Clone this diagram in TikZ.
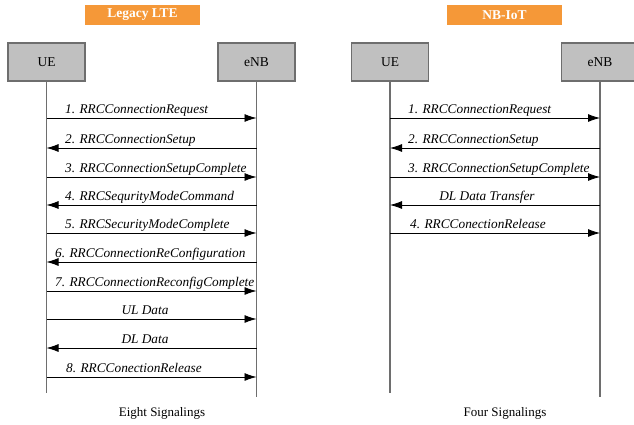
\documentclass[tikz,border=0pt]{standalone}
\usepackage{fontspec}
\setmainfont{Liberation Serif}
\usetikzlibrary{arrows.meta}
\definecolor{titleorange}{RGB}{245,152,56}
\definecolor{boxgray}{RGB}{192,192,192}
\definecolor{linegray}{RGB}{110,110,110}
\tikzset{
  entity/.style={draw=linegray,fill=boxgray,line width=1.2pt,minimum width=77pt,
    minimum height=38pt,inner sep=0pt,font=\fontsize{13.5}{15}\selectfont},
  titlebox/.style={fill=titleorange,text=white,minimum width=115pt,minimum height=20pt,
    inner sep=0pt,font=\bfseries\fontsize{13.5}{15}\selectfont},
  msg/.style={-{Latex[length=12pt,width=8pt]},line width=0.8pt},
  lifeline/.style={draw=linegray,line width=1.2pt},
  msglabel/.style={font=\itshape\fontsize{13.3}{15}\selectfont,inner sep=0pt},
  caption/.style={font=\fontsize{13}{15}\selectfont,inner sep=0pt}
}
\begin{document}
\begin{tikzpicture}[x=1pt,y=-1pt]
  \useasboundingbox (0,0) rectangle (634,424);
  % titles
  \node[titlebox] (ltetitle) at (142.5,15) {Legacy LTE};
  \node[titlebox] (iottitle) at (504.5,15) {NB-IoT};
  % entities
  \node[entity] (ueL) at (46.5,62) {UE};
  \node[entity] (enbL) at (256.5,62) {eNB};
  \node[entity] (ueR) at (390,62) {UE};
  \node[entity] (enbR) at (600,62) {eNB};
  % lifelines
  \coordinate (ueLend) at (ueL |- 0,393);
  \coordinate (enbLend) at (enbL |- 0,397);
  \coordinate (ueRend) at (ueR |- 0,393);
  \coordinate (enbRend) at (enbR |- 0,397);
  \draw[lifeline] (ueL.south) -- (ueLend);
  \draw[lifeline] (enbL.south) -- (enbLend);
  \draw[lifeline] (ueR.south) -- (ueRend);
  \draw[lifeline] (enbR.south) -- (enbRend);
  % legacy LTE messages
  \foreach \y/\a/\b/\x/\anc/\txt in {
      118/ueL/enbL/65/base west/1. RRCConnectionRequest,
      148/enbL/ueL/65/base west/2. RRCConnectionSetup,
      177/ueL/enbL/65/base west/3. RRCConnectionSetupComplete,
      205/enbL/ueL/65/base west/4. RRCSequrityModeCommand,
      233/ueL/enbL/65/base west/5. RRCSecurityModeComplete,
      262/enbL/ueL/55/base west/6. RRCConnectionReConfiguration,
      291/ueL/enbL/55/base west/7. RRCConnectionReconfigComplete,
      319/ueL/enbL/145/base/UL Data,
      348/enbL/ueL/145/base/DL Data,
      377/ueL/enbL/66/base west/8. RRCConectionRelease}
  {
    \draw[msg] (\a |- 0,\y) -- (\b |- 0,\y);
    \node[msglabel,anchor=\anc] at (\x,\y-5) {\txt};
  }
  % NB-IoT messages
  \foreach \y/\a/\b/\x/\anc/\txt in {
      118/ueR/enbR/408/base west/1. RRCConnectionRequest,
      148/enbR/ueR/408/base west/2. RRCConnectionSetup,
      177/ueR/enbR/408/base west/3. RRCConnectionSetupComplete,
      205/enbR/ueR/487/base/DL Data Transfer,
      233/ueR/enbR/410/base west/4. RRCConectionRelease}
  {
    \draw[msg] (\a |- 0,\y) -- (\b |- 0,\y);
    \node[msglabel,anchor=\anc] at (\x,\y-5) {\txt};
  }
  % captions
  \node[caption,anchor=base] (capL) at (162,416) {Eight Signalings};
  \node[caption,anchor=base] (capR) at (505,416) {Four Signalings};
\end{tikzpicture}
\end{document}
